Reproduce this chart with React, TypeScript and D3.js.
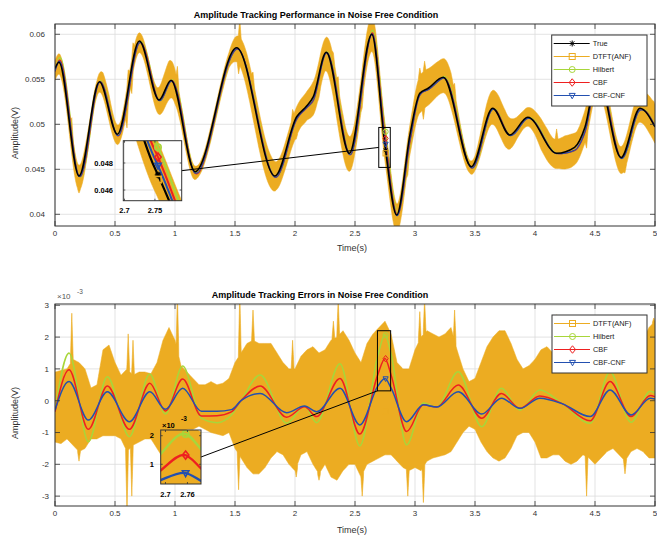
import React from "react";
import * as d3 from "d3";

// ---------- data ----------
// True amplitude (V), key points of the curve
const trueT = [0, 0.033, 0.2, 0.37, 0.52, 0.703, 0.867, 0.967, 1.167, 1.514, 1.833, 2.014, 2.097, 2.153, 2.26, 2.453, 2.64, 2.75, 2.847, 2.96, 3.04, 3.11, 3.236, 3.47, 3.647, 3.79, 3.94, 4.18, 4.33, 4.417, 4.52, 4.717, 4.875, 5.0];
const trueV = [0.0562, 0.0569, 0.04426, 0.05473, 0.04889, 0.05926, 0.0527, 0.0549, 0.04473, 0.05851, 0.04426, 0.05084, 0.05203, 0.05307, 0.058, 0.04678, 0.06, 0.0476, 0.03992, 0.049, 0.05344, 0.054, 0.05522, 0.04529, 0.05178, 0.04881, 0.05078, 0.04678, 0.04744, 0.0497, 0.0555, 0.0463, 0.05178, 0.0497];

// Tracking errors (x1e-3 V)
const errT = [0, 0.117, 0.278, 0.436, 0.62, 0.79, 0.92, 1.064, 1.22, 1.35, 1.47, 1.55, 1.71, 1.93, 2.08, 2.18, 2.375, 2.54, 2.69, 2.75, 2.8, 2.93, 3.07, 3.18, 3.36, 3.556, 3.72, 3.875, 4.04, 4.23, 4.46, 4.625, 4.8, 4.96, 5.0];
const hilbertErr = [-0.3, 1.5, -1.29, 0.75, -1.13, 0.84, -0.42, 1.09, -0.55, -0.69, -0.45, 0.0, 0.81, -0.71, -0.17, -0.69, 1.16, -1.42, 1.41, 2.07, 1.48, -1.39, -0.07, -0.2, 0.91, -0.82, 0.39, -0.3, 0.34, -0.1, -0.71, 0.91, -0.68, 0.3, 0.25];
const cbfErr = [-0.35, 0.97, -0.9, 0.46, -0.9, 0.55, -0.32, 0.68, -0.48, -0.47, -0.35, 0.0, 0.46, -0.52, -0.19, -0.5, 0.7, -1.05, 0.82, 1.33, 0.82, -0.97, -0.13, -0.2, 0.49, -0.55, 0.23, -0.24, 0.15, -0.1, -0.63, 0.6, -0.5, 0.16, 0.12];
const cbfCnfErr = [-0.3, 0.6, -0.61, 0.28, -0.66, 0.28, -0.27, 0.39, -0.33, -0.33, -0.28, 0.0, 0.23, -0.38, -0.17, -0.35, 0.39, -0.76, 0.46, 0.7, 0.4, -0.66, -0.13, -0.2, 0.28, -0.42, 0.08, -0.24, 0.08, -0.1, -0.5, 0.34, -0.45, 0.08, 0.05];

// DTFT(ANF) error envelope (x1e-3 V)
const envT = [0, 0.05, 0.1, 0.15, 0.2, 0.25, 0.3, 0.35, 0.4, 0.45, 0.5, 0.55, 0.6, 0.65, 0.7, 0.75, 0.8, 0.85, 0.9, 0.95, 1.0, 1.05, 1.1, 1.15, 1.2, 1.25, 1.3, 1.35, 1.4, 1.45, 1.5, 1.55, 1.6, 1.65, 1.7, 1.75, 1.8, 1.85, 1.9, 1.95, 2.0, 2.05, 2.1, 2.15, 2.2, 2.25, 2.3, 2.35, 2.4, 2.45, 2.5, 2.55, 2.6, 2.65, 2.7, 2.75, 2.8, 2.85, 2.9, 2.95, 3.0, 3.05, 3.1, 3.15, 3.2, 3.25, 3.3, 3.35, 3.4, 3.45, 3.5, 3.55, 3.6, 3.65, 3.7, 3.75, 3.8, 3.85, 3.9, 3.95, 4.0, 4.05, 4.1, 4.15, 4.2, 4.25, 4.3, 4.35, 4.4, 4.45, 4.5, 4.55, 4.6, 4.65, 4.7, 4.75, 4.8, 4.85, 4.9, 4.95, 5.0];
const dtftHi = [0.9, 0.95, 1.0, 1.3, 1.2, 1.0, 0.4, 0.5, 1.6, 1.75, 1.2, 0.8, 1.0, 0.8, 0.9, 0.9, 0.85, 1.2, 1.9, 2.3, 1.9, 1.1, 0.9, 0.7, 0.5, 0.5, 0.6, 0.5, 0.55, 0.7, 1.2, 1.5, 1.8, 1.9, 1.8, 1.8, 1.8, 1.5, 1.2, 1.0, 1.0, 1.4, 1.6, 1.7, 1.5, 1.6, 1.9, 2.0, 2.2, 1.9, 1.5, 1.2, 1.8, 2.1, 2.3, 2.5, 2.1, 1.2, 1.0, 1.0, 1.6, 2.0, 2.2, 2.1, 2.0, 2.1, 2.3, 1.6, 1.0, 0.6, 0.7, 1.2, 1.7, 2.0, 2.2, 2.2, 1.8, 1.3, 1.0, 1.1, 1.3, 1.6, 1.7, 1.5, 1.6, 1.8, 1.7, 1.5, 1.8, 2.0, 2.2, 2.0, 1.8, 1.5, 1.2, 1.3, 1.5, 1.6, 1.9, 2.3, 2.5];
const dtftLo = [-1.3, -1.35, -1.2, -1.4, -1.6, -1.5, -1.2, -1.2, -1.1, -1.1, -1.1, -1.2, -1.6, -1.4, -1.3, -1.2, -1.2, -1.5, -1.8, -2.0, -1.9, -1.2, -0.9, -0.9, -0.8, -0.9, -1.0, -1.05, -1.1, -1.0, -1.5, -1.8, -2.1, -2.3, -2.3, -2.1, -1.8, -1.6, -1.7, -2.0, -2.2, -1.7, -1.6, -2.0, -2.3, -2.0, -2.4, -2.5, -2.2, -2.0, -2.0, -2.4, -2.0, -1.9, -1.8, -1.7, -1.7, -1.9, -2.1, -2.2, -2.1, -2.2, -1.9, -1.8, -1.75, -1.7, -1.6, -1.3, -1.0, -0.8, -0.9, -1.3, -1.6, -1.8, -1.9, -1.8, -1.5, -1.1, -1.0, -1.0, -1.3, -1.8, -1.8, -1.7, -1.7, -1.9, -2.0, -1.9, -1.7, -1.8, -2.0, -1.8, -1.6, -1.5, -1.7, -1.9, -1.6, -1.5, -1.6, -1.8, -1.8];
// narrow DTFT spikes (x1e-3 V)
const spikeUpT = [0.14, 0.61, 0.65, 1.02, 1.54, 1.65, 1.98, 2.32, 2.36, 3.04, 3.08, 3.33, 4.18, 4.99];
const spikeUpV = [2.75, 2.1, 1.9, 3.3, 3.4, 2.85, 1.9, 2.5, 3.2, 2.8, 3.2, 2.85, 2.7, 2.6];
const spikeDnT = [0.2, 0.6, 0.64, 1.53, 2.01, 2.2, 2.56, 2.94, 3.07, 4.43, 4.75];
const spikeDnV = [-1.9, -3.5, -3.0, -2.8, -2.4, -2.5, -3.0, -3.0, -3.2, -3.0, -2.3];

const markerT = 2.755;
const dtftAtMarker = -0.34;

const xTicks = [0, 0.5, 1, 1.5, 2, 2.5, 3, 3.5, 4, 4.5, 5];
const topYTicks = [0.04, 0.045, 0.05, 0.055, 0.06];
const botYTicks = [-3, -2, -1, 0, 1, 2, 3];
const topInsetXTicks = [2.7, 2.75];
const topInsetYTicks = [0.046, 0.048];
const botInsetXTicks = [2.7, 2.76];
const botInsetYTicks = [1, 2];
const legendTop = ["True", "DTFT(ANF)", "Hilbert", "CBF", "CBF-CNF"];
const legendBot = ["DTFT(ANF)", "Hilbert", "CBF", "CBF-CNF"];

// ---------- style ----------
const FONT = "'Liberation Sans', Arial, Helvetica, sans-serif";
const C = {
  True: "#000000",
  "DTFT(ANF)": "#ECAC22",
  Hilbert: "#A8D63A",
  CBF: "#EE2020",
  "CBF-CNF": "#2350B0",
};
const MK: Record<string, string> = {
  True: "asterisk",
  "DTFT(ANF)": "square",
  Hilbert: "circle",
  CBF: "diamond",
  "CBF-CNF": "tri",
};
const AX = "#333333";
const GRID = "#dcdcdc";

function monotone(xs: number[], ys: number[]) {
  const n = xs.length;
  const m = new Array(n).fill(0);
  const sgn = (v: number) => (v < 0 ? -1 : 1);
  for (let i = 1; i < n - 1; i++) {
    const h0 = xs[i] - xs[i - 1], h1 = xs[i + 1] - xs[i];
    const s0 = (ys[i] - ys[i - 1]) / h0, s1 = (ys[i + 1] - ys[i]) / h1;
    const p = (s0 * h1 + s1 * h0) / (h0 + h1);
    m[i] = (sgn(s0) + sgn(s1)) * Math.min(Math.abs(s0), Math.abs(s1), 0.5 * Math.abs(p)) || 0;
  }
  m[0] = (3 * (ys[1] - ys[0]) / (xs[1] - xs[0]) - m[1]) / 2;
  m[n - 1] = (3 * (ys[n - 1] - ys[n - 2]) / (xs[n - 1] - xs[n - 2]) - m[n - 2]) / 2;
  return (t: number) => {
    let i = d3.bisectRight(xs, t) - 1;
    i = Math.max(0, Math.min(n - 2, i));
    const h = xs[i + 1] - xs[i];
    const u = (t - xs[i]) / h;
    const u2 = u * u, u3 = u2 * u;
    return (2 * u3 - 3 * u2 + 1) * ys[i] + (u3 - 2 * u2 + u) * h * m[i] + (-2 * u3 + 3 * u2) * ys[i + 1] + (u3 - u2) * h * m[i + 1];
  };
}

function Marker({ type, x, y, color, s = 3, sw = 1 }: any) {
  if (type === "asterisk") {
    const d = s * 0.72;
    return (
      <g stroke={color} strokeWidth={sw}>
        <line x1={x - s} y1={y} x2={x + s} y2={y} />
        <line x1={x} y1={y - s} x2={x} y2={y + s} />
        <line x1={x - d} y1={y - d} x2={x + d} y2={y + d} />
        <line x1={x - d} y1={y + d} x2={x + d} y2={y - d} />
      </g>
    );
  }
  if (type === "square") return <rect x={x - s} y={y - s} width={2 * s} height={2 * s} fill="none" stroke={color} strokeWidth={sw} />;
  if (type === "circle") return <circle cx={x} cy={y} r={s} fill="none" stroke={color} strokeWidth={sw} />;
  if (type === "diamond") return <polygon points={`${x},${y - s * 1.25} ${x + s},${y} ${x},${y + s * 1.25} ${x - s},${y}`} fill="none" stroke={color} strokeWidth={sw} />;
  return <polygon points={`${x - s},${y - s * 0.7} ${x + s},${y - s * 0.7} ${x},${y + s * 1.1}`} fill="none" stroke={color} strokeWidth={sw} />;
}

function Legend({ x, y, w, rowH, items }: any) {
  const h = rowH * items.length + 6;
  return (
    <g>
      <rect x={x} y={y} width={w} height={h} fill="#fff" stroke={AX} strokeWidth={1} />
      {items.map((name: string, i: number) => {
        const cy = y + 8.5 + i * rowH;
        return (
          <g key={name}>
            <line x1={x + 2} x2={x + 38} y1={cy} y2={cy} stroke={(C as any)[name]} strokeWidth={1} />
            <Marker type={MK[name]} x={x + 20.5} y={cy} color={(C as any)[name]} s={3} sw={1} />
            <text x={x + 41} y={cy + 2.7} fontSize={7.4} fontFamily={FONT} fill="#222">{name}</text>
          </g>
        );
      })}
    </g>
  );
}

export default function App() {
  const xT = d3.scaleLinear().domain([0, 5]).range([55, 655]);
  const yT = d3.scaleLinear().domain([0.0387, 0.061144]).range([226, 24]);
  const xB = d3.scaleLinear().domain([0, 5]).range([55, 655]);
  const yB = d3.scaleLinear().domain([-3.31, 3.04]).range([506, 304]);
  const xTI = d3.scaleLinear().domain([2.698, 2.794]).range([123.3, 181.7]);
  const yTI = d3.scaleLinear().domain([0.04521, 0.04965]).range([200.7, 140.7]);
  const xBI = d3.scaleLinear().domain([2.687, 2.797]).range([160.7, 201]);
  const yBI = d3.scaleLinear().domain([0.31, 2.2]).range([484, 430]);

  const trueF = monotone(trueT, trueV);
  const errF: Record<string, (t: number) => number> = {
    Hilbert: monotone(errT, hilbertErr),
    CBF: monotone(errT, cbfErr),
    "CBF-CNF": monotone(errT, cbfCnfErr),
  };
  const errData: Record<string, number[]> = { Hilbert: hilbertErr, CBF: cbfErr, "CBF-CNF": cbfCnfErr };
  const hiLin = d3.scaleLinear().domain(envT).range(dtftHi).clamp(true);
  const loLin = d3.scaleLinear().domain(envT).range(dtftLo).clamp(true);
  const SW = 0.012;
  const hiF = (t: number) => {
    let v = hiLin(t);
    spikeUpT.forEach((ts, i) => {
      const d = Math.abs(t - ts);
      if (d < SW) {
        const c = spikeUpV[i] + (hiLin(ts) - spikeUpV[i]) * (d / SW);
        if (c > v) v = c;
      }
    });
    return v;
  };
  const loF = (t: number) => {
    let v = loLin(t);
    spikeDnT.forEach((ts, i) => {
      const d = Math.abs(t - ts);
      if (d < SW) {
        const c = spikeDnV[i] + (loLin(ts) - spikeDnV[i]) * (d / SW);
        if (c < v) v = c;
      }
    });
    return v;
  };

  const grid = Array.from(new Set([...d3.range(0, 5.0001, 0.002).map((v) => +v.toFixed(4)), ...spikeUpT, ...spikeDnT])).sort((a, b) => a - b);
  const igrid = d3.range(2.68, 2.81, 0.0005);

  // top main
  const topBand = d3.area<number>().x((t) => xT(t)).y0((t) => yT(trueF(t) + loF(t) / 1000)).y1((t) => yT(trueF(t) + hiF(t) / 1000))(grid) as string;
  const topLine = (name: string, xs: any, ys: any, g: number[]) =>
    d3.line<number>().x((t) => xs(t)).y((t) => ys(trueF(t) + errF[name](t) / 1000))(g) as string;
  const trueLine = (xs: any, ys: any) =>
    d3.line<number>().x((_, i) => xs(trueT[i])).y((v) => ys(v)).curve(d3.curveMonotoneX)(trueV) as string;
  const topInsetBand = d3.area<number>().x((t) => xTI(t)).y0((t) => yTI(trueF(t) + loF(t) / 1000)).y1((t) => yTI(trueF(t) + hiF(t) / 1000))(igrid) as string;

  // bottom
  const botBand = d3.area<number>().x((t) => xB(t)).y0((t) => yB(loF(t))).y1((t) => yB(hiF(t)))(grid) as string;
  const botInsetBand = d3.area<number>().x((t) => xBI(t)).y0((t) => yBI(loF(t))).y1((t) => yBI(hiF(t)))(igrid) as string;
  const errLine = (name: string, xs: any, ys: any) =>
    d3.line<number>().x((_, i) => xs(errT[i])).y((v) => ys(v)).curve(d3.curveMonotoneX)(errData[name]) as string;

  const names3 = ["Hilbert", "CBF", "CBF-CNF"];
  const mt = markerT;
  const topMarkVals: Record<string, number> = {
    True: trueF(mt),
    "DTFT(ANF)": trueF(mt) + dtftAtMarker / 1000,
    Hilbert: trueF(mt) + errF.Hilbert(mt) / 1000,
    CBF: trueF(mt) + errF.CBF(mt) / 1000,
    "CBF-CNF": trueF(mt) + errF["CBF-CNF"](mt) / 1000,
  };
  const botMarkVals: Record<string, number> = {
    "DTFT(ANF)": dtftAtMarker,
    Hilbert: errF.Hilbert(mt),
    CBF: errF.CBF(mt),
    "CBF-CNF": errF["CBF-CNF"](mt),
  };

  const Frame = ({ x0, x1, y0, y1, xs, ys, yTicks, xTicksArr, tick = 5 }: any) => (
    <g>
      {xTicksArr.map((t: number) => (
        <g key={"x" + t} stroke={AX} strokeWidth={0.8}>
          <line x1={xs(t)} x2={xs(t)} y1={y1} y2={y1 - tick} />
          <line x1={xs(t)} x2={xs(t)} y1={y0} y2={y0 + tick} />
        </g>
      ))}
      {yTicks.map((v: number) => (
        <g key={"y" + v} stroke={AX} strokeWidth={0.8}>
          <line x1={x0} x2={x0 + tick} y1={ys(v)} y2={ys(v)} />
          <line x1={x1} x2={x1 - tick} y1={ys(v)} y2={ys(v)} />
        </g>
      ))}
      <rect x={x0} y={y0} width={x1 - x0} height={y1 - y0} fill="none" stroke={AX} strokeWidth={1} />
    </g>
  );

  const Grid = ({ x0, x1, y0, y1, xs, ys, yTicks, xTicksArr }: any) => (
    <g stroke={GRID} strokeWidth={0.8}>
      {xTicksArr.map((t: number) => <line key={"gx" + t} x1={xs(t)} x2={xs(t)} y1={y0} y2={y1} />)}
      {yTicks.map((v: number) => <line key={"gy" + v} x1={x0} x2={x1} y1={ys(v)} y2={ys(v)} />)}
    </g>
  );

  const fmtTop = (v: number) => String(+v.toFixed(3));

  return (
    <svg width={657} height={537} style={{ position: "absolute", left: 0, top: 0, background: "#fff" }} fontFamily={FONT}>
      <defs>
        <clipPath id="cTop"><rect x={55} y={24} width={600} height={202} /></clipPath>
        <clipPath id="cBot"><rect x={55} y={304} width={600} height={202} /></clipPath>
        <clipPath id="cTI"><rect x={123.3} y={140.7} width={58.4} height={60} /></clipPath>
        <clipPath id="cBI"><rect x={160.7} y={430} width={40.3} height={54} /></clipPath>
      </defs>
      <rect x={0} y={0} width={657} height={537} fill="#fff" />

      {/* ================= TOP ================= */}
      <Grid x0={55} x1={655} y0={24} y1={226} xs={xT} ys={yT} yTicks={topYTicks} xTicksArr={xTicks} />
      <g clipPath="url(#cTop)">
        <path d={topBand} fill={C["DTFT(ANF)"]} stroke={C["DTFT(ANF)"]} strokeWidth={0.6} />
        {names3.map((n) => (
          <path key={n} d={topLine(n, xT, yT, grid)} fill="none" stroke={(C as any)[n]} strokeWidth={1.2} />
        ))}
        <path d={trueLine(xT, yT)} fill="none" stroke="#000" strokeWidth={1.6} />
        {legendTop.map((n) => (
          <Marker key={n} type={MK[n]} x={xT(mt)} y={yT(topMarkVals[n])} color={(C as any)[n]} s={2.6} sw={1} />
        ))}
      </g>
      <Frame x0={55} x1={655} y0={24} y1={226} xs={xT} ys={yT} yTicks={topYTicks} xTicksArr={xTicks} />
      {/* zoom rectangle */}
      <rect x={xT(2.698)} y={yT(0.04965)} width={xT(2.794) - xT(2.698)} height={yT(0.04521) - yT(0.04965)} fill="none" stroke="#000" strokeWidth={1} />
      <line x1={181.7} y1={170.7} x2={xT(2.698)} y2={yT((0.04521 + 0.04965) / 2)} stroke="#000" strokeWidth={1} />
      {/* top inset */}
      <rect x={123.3} y={140.7} width={58.4} height={60} fill="#fff" />
      <g stroke={GRID} strokeWidth={0.8}>
        {topInsetXTicks.map((t) => <line key={t} x1={xTI(t)} x2={xTI(t)} y1={140.7} y2={200.7} />)}
        {topInsetYTicks.map((v) => <line key={v} x1={123.3} x2={181.7} y1={yTI(v)} y2={yTI(v)} />)}
      </g>
      <g clipPath="url(#cTI)">
        <path d={topInsetBand} fill={C["DTFT(ANF)"]} stroke={C["DTFT(ANF)"]} strokeWidth={0.6} />
        {names3.map((n) => (
          <path key={n} d={topLine(n, xTI, yTI, igrid)} fill="none" stroke={(C as any)[n]} strokeWidth={2} />
        ))}
        <path d={trueLine(xTI, yTI)} fill="none" stroke="#000" strokeWidth={2.2} />
        {legendTop.map((n) => (
          <Marker key={n} type={MK[n]} x={xTI(mt)} y={yTI(topMarkVals[n])} color={(C as any)[n]} s={3.2} sw={1.6} />
        ))}
      </g>
      <Frame x0={123.3} x1={181.7} y0={140.7} y1={200.7} xs={xTI} ys={yTI} yTicks={topInsetYTicks} xTicksArr={topInsetXTicks} tick={2} />
      {topInsetYTicks.map((v) => (
        <text key={v} x={113} y={yTI(v) + 2.6} textAnchor="end" fontSize={7.5} fontWeight="bold" fill="#000">{String(v)}</text>
      ))}
      {topInsetXTicks.map((t) => (
        <text key={t} x={xTI(t)} y={213} textAnchor="middle" fontSize={7.5} fontWeight="bold" fill="#000">{String(t)}</text>
      ))}

      {/* axis labels top */}
      {xTicks.map((t) => (
        <text key={t} x={xT(t)} y={236} textAnchor="middle" fontSize={8} fill={AX}>{String(t)}</text>
      ))}
      {topYTicks.map((v) => (
        <text key={v} x={45} y={yT(v) + 2.8} textAnchor="end" fontSize={8} fill={AX}>{fmtTop(v)}</text>
      ))}
      <text x={352} y={251} textAnchor="middle" fontSize={9} fill={AX}>Time(s)</text>
      <text transform="translate(18,133) rotate(-90)" textAnchor="middle" fontSize={9} fill={AX}>Amplitude(V)</text>
      <text x={316} y={17.5} textAnchor="middle" fontSize={9} fontWeight="bold" fill="#000">Amplitude Tracking Performance in Noise Free Condition</text>
      <Legend x={551.7} y={35} w={95.3} rowH={13} items={legendTop} />

      {/* ================= BOTTOM ================= */}
      <Grid x0={55} x1={655} y0={304} y1={506} xs={xB} ys={yB} yTicks={botYTicks} xTicksArr={xTicks} />
      <g clipPath="url(#cBot)">
        <path d={botBand} fill={C["DTFT(ANF)"]} stroke={C["DTFT(ANF)"]} strokeWidth={0.6} />
        {names3.map((n) => (
          <path key={n} d={errLine(n, xB, yB)} fill="none" stroke={(C as any)[n]} strokeWidth={1.5} />
        ))}
        {legendBot.map((n) => (
          <Marker key={n} type={MK[n]} x={xB(mt)} y={yB(botMarkVals[n])} color={(C as any)[n]} s={2.6} sw={1} />
        ))}
      </g>
      <Frame x0={55} x1={655} y0={304} y1={506} xs={xB} ys={yB} yTicks={botYTicks} xTicksArr={xTicks} />
      <rect x={xB(2.687)} y={yB(2.2)} width={xB(2.797) - xB(2.687)} height={yB(0.31) - yB(2.2)} fill="none" stroke="#000" strokeWidth={1} />
      <line x1={201} y1={457} x2={xB(2.687)} y2={yB(0.31)} stroke="#000" strokeWidth={1} />
      {/* bottom inset */}
      <rect x={160.7} y={430} width={40.3} height={54} fill="#fff" />
      <g clipPath="url(#cBI)">
        <path d={botInsetBand} fill={C["DTFT(ANF)"]} stroke={C["DTFT(ANF)"]} strokeWidth={0.6} />
        {names3.map((n) => (
          <path key={n} d={errLine(n, xBI, yBI)} fill="none" stroke={(C as any)[n]} strokeWidth={2.4} />
        ))}
        {legendBot.map((n) => (
          <Marker key={n} type={MK[n]} x={xBI(mt)} y={yBI(botMarkVals[n])} color={(C as any)[n]} s={3.2} sw={1.6} />
        ))}
      </g>
      <Frame x0={160.7} x1={201} y0={430} y1={484} xs={xBI} ys={yBI} yTicks={botInsetYTicks} xTicksArr={botInsetXTicks} tick={2} />
      {botInsetYTicks.map((v) => (
        <text key={v} x={154} y={yBI(v) + 2.6} textAnchor="end" fontSize={7.5} fontWeight="bold" fill="#000">{String(v)}</text>
      ))}
      {botInsetXTicks.map((t) => (
        <text key={t} x={xBI(t)} y={496.5} textAnchor="middle" fontSize={7.5} fontWeight="bold" fill="#000">{String(t)}</text>
      ))}
      <text x={162} y={428} fontSize={7.5} fontWeight="bold" fill="#000">×10</text>
      <text x={181} y={421} fontSize={6.5} fontWeight="bold" fill="#000">-3</text>

      {xTicks.map((t) => (
        <text key={t} x={xB(t)} y={516} textAnchor="middle" fontSize={8} fill={AX}>{String(t)}</text>
      ))}
      {botYTicks.map((v) => (
        <text key={v} x={49} y={yB(v) + 2.8} textAnchor="end" fontSize={8} fill={AX}>{String(v)}</text>
      ))}
      <text x={57} y={299} fontSize={8} fill="#555">×10</text>
      <text x={77} y={294} fontSize={6.5} fill="#555">-3</text>
      <text x={352} y={533} textAnchor="middle" fontSize={9} fill={AX}>Time(s)</text>
      <text transform="translate(18,413) rotate(-90)" textAnchor="middle" fontSize={9} fill={AX}>Amplitude(V)</text>
      <text x={320} y={297.5} textAnchor="middle" fontSize={9} fontWeight="bold" fill="#000">Amplitude Tracking Errors in Noise Free Condition</text>
      <Legend x={552} y={315} w={95} rowH={13} items={legendBot} />
    </svg>
  );
}
